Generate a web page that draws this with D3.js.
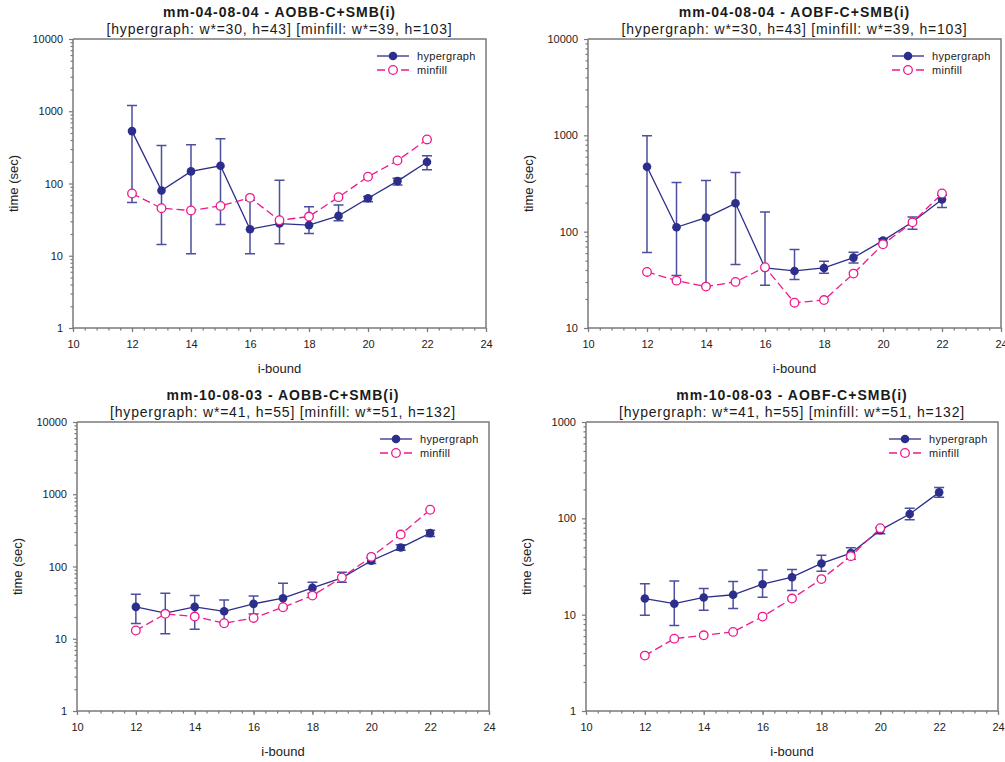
<!DOCTYPE html>
<html>
<head>
<meta charset="utf-8">
<script src="https://cdn.jsdelivr.net/npm/d3@7"></script>
<style>
  html, body { margin: 0; padding: 0; background: #fff; }
  svg { display: block; font-family: "Liberation Sans", Arial, sans-serif; }
</style>
</head>
<body>
<svg id="chart" width="1005" height="762"></svg>
<script>
// ---- data ----
const iBound = [12, 13, 14, 15, 16, 17, 18, 19, 20, 21, 22];
const xTicks = [10, 12, 14, 16, 18, 20, 22, 24];
const seriesNames = ["hypergraph", "minfill"];

const titles = [
  "mm-04-08-04 - AOBB-C+SMB(i)",
  "mm-04-08-04 - AOBF-C+SMB(i)",
  "mm-10-08-03 - AOBB-C+SMB(i)",
  "mm-10-08-03 - AOBF-C+SMB(i)"
];
const subtitles = [
  "[hypergraph: w*=30, h=43] [minfill: w*=39, h=103]",
  "[hypergraph: w*=30, h=43] [minfill: w*=39, h=103]",
  "[hypergraph: w*=41, h=55] [minfill: w*=51, h=132]",
  "[hypergraph: w*=41, h=55] [minfill: w*=51, h=132]"
];
const yDomains = [[1, 10000], [10, 10000], [1, 10000], [1, 1000]];

// panel 1
const p1Hyper   = [531, 80, 147, 176, 23.3, 27.9, 26.5, 35.6, 62.6, 108, 198];
const p1HyperLo = [54.5, 14.3, 10.7, 27, 10.7, 14.7, 20.3, 30.4, 56, 95, 155];
const p1HyperHi = [1205, 336, 343, 416, 58.7, 111, 47.5, 50.6, 66, 118, 242];
const p1Minfill = [72.7, 45.5, 42.3, 49, 63.3, 31, 34.9, 64.7, 124, 208, 407];
// panel 2
const p2Hyper   = [471, 111, 140, 197, 42, 39.1, 42, 53.8, 80.7, 126, 216];
const p2HyperLo = [60.7, 35, 27, 45.5, 27.7, 31.8, 37, 47.3, 77, 106, 178];
const p2HyperHi = [989, 324, 340, 411, 160, 65.2, 49.3, 61, 84.5, 142, 239];
const p2Minfill = [38.2, 31, 26.9, 30.1, 42.7, 18.3, 19.5, 36.7, 74, 125, 249];
// panel 3
const p3Hyper   = [27.6, 22.6, 27.6, 24, 30.4, 36.4, 50.6, 69.7, 120, 183, 290];
const p3HyperLo = [16.2, 11.7, 13.5, 16.9, 22, 26.5, 42.7, 60.7, 110, 168, 260];
const p3HyperHi = [41.4, 42.7, 39.6, 34.5, 39.2, 58.7, 60.7, 83.4, 130, 200, 318];
const p3Minfill = [13, 22.1, 20.3, 16.4, 19.4, 27.3, 39.6, 70.4, 136, 277, 610];
// panel 4
const p4Hyper   = [14.7, 13, 15.1, 16.1, 20.7, 24.5, 34, 43.5, 75.4, 111, 186];
const p4HyperLo = [9.87, 7.7, 11.1, 11.6, 15.2, 17.8, 28.3, 37.7, 69, 96.6, 166];
const p4HyperHi = [21, 22.3, 18.7, 22.1, 29, 29.4, 41.5, 49.4, 80, 127, 209];
const p4Minfill = [3.76, 5.64, 6.11, 6.62, 9.55, 14.7, 23.4, 40.5, 79.1];

// ---- layout ----
const frames = [
  {left: 73, right: 486, top: 39, bottom: 328},
  {left: 588, right: 1001, top: 39, bottom: 328},
  {left: 77, right: 489, top: 422, bottom: 711},
  {left: 586, right: 998, top: 422, bottom: 711}
];
const panelData = [
  {hyper: p1Hyper, lo: p1HyperLo, hi: p1HyperHi, minfill: p1Minfill},
  {hyper: p2Hyper, lo: p2HyperLo, hi: p2HyperHi, minfill: p2Minfill},
  {hyper: p3Hyper, lo: p3HyperLo, hi: p3HyperHi, minfill: p3Minfill},
  {hyper: p4Hyper, lo: p4HyperLo, hi: p4HyperHi, minfill: p4Minfill}
];

const NAVY = "#2c2e8c";
const ERR = "#4b4f9e";
const PINK = "#ec1a8c";
const AXIS = "#7a7a7a";

const svg = d3.select("#chart");

frames.forEach((f, k) => {
  const d = panelData[k];
  const x = d3.scaleLinear().domain([10, 24]).range([f.left, f.right]);
  const y = d3.scaleLog().domain(yDomains[k]).range([f.bottom, f.top]);
  const g = svg.append("g");
  const cx = (f.left + f.right) / 2;

  // titles
  g.append("text").attr("x", cx).attr("y", f.top - 22)
    .attr("text-anchor", "middle").attr("font-size", 14).attr("font-weight", "bold")
    .attr("letter-spacing", "1px").attr("fill", "#1a1a1a").text(titles[k]);
  g.append("text").attr("x", cx).attr("y", f.top - 5)
    .attr("text-anchor", "middle").attr("font-size", 14)
    .attr("letter-spacing", "0.8px").attr("fill", "#1a1a1a").text(subtitles[k]);

  // frame top/right
  g.append("path")
    .attr("d", `M${f.left},${f.top}H${f.right}V${f.bottom}`)
    .attr("fill", "none").attr("stroke", AXIS).attr("stroke-width", 1.5);

  // x axis
  const xMinor = d3.range(10, 24.001, 0.4);
  const xAxisMinor = d3.axisBottom(x).tickValues(xMinor).tickSize(2.5).tickFormat("");
  const gxm = g.append("g").attr("transform", `translate(0,${f.bottom})`).call(xAxisMinor);
  gxm.select(".domain").remove();
  gxm.selectAll("line").attr("stroke", AXIS).attr("stroke-width", 1.2);
  const xAxis = d3.axisBottom(x).tickValues(xTicks).tickSize(4).tickPadding(8).tickFormat(d3.format("d"));
  const gx = g.append("g").attr("transform", `translate(0,${f.bottom})`).call(xAxis);
  gx.select(".domain").attr("stroke", AXIS).attr("stroke-width", 1.5).attr("d", `M${f.left},0H${f.right}`);
  gx.selectAll("line").attr("stroke", AXIS).attr("stroke-width", 1.2);
  gx.selectAll("text").attr("font-size", 11).attr("fill", "#222").attr("font-family", "Liberation Sans, Arial, sans-serif");

  // y axis
  const [y0, y1] = yDomains[k];
  const majors = [];
  for (let v = y0; v <= y1 * 1.0001; v *= 10) majors.push(v);
  const minors = [];
  majors.slice(0, -1).forEach(m => { for (let j = 2; j <= 9; j++) minors.push(m * j); });
  const yAxisMinor = d3.axisLeft(y).tickValues(minors).tickSize(2.5).tickFormat("");
  const gym = g.append("g").attr("transform", `translate(${f.left},0)`).call(yAxisMinor);
  gym.select(".domain").remove();
  gym.selectAll("line").attr("stroke", AXIS).attr("stroke-width", 1.2);
  const yAxis = d3.axisLeft(y).tickValues(majors).tickSize(4).tickPadding(6).tickFormat(d3.format("d"));
  const gy = g.append("g").attr("transform", `translate(${f.left},0)`).call(yAxis);
  gy.select(".domain").attr("stroke", AXIS).attr("stroke-width", 1.5).attr("d", `M0,${f.top}V${f.bottom}`);
  gy.selectAll("line").attr("stroke", AXIS).attr("stroke-width", 1.2);
  gy.selectAll("text").attr("font-size", 11).attr("fill", "#222").attr("font-family", "Liberation Sans, Arial, sans-serif");

  // axis labels
  g.append("text").attr("x", cx).attr("y", f.bottom + 45)
    .attr("text-anchor", "middle").attr("font-size", 13).attr("fill", "#222").text("i-bound");
  const lx = f.left - 55, ly = (f.top + f.bottom) / 2;
  g.append("text").attr("transform", `translate(${lx},${ly}) rotate(-90)`)
    .attr("text-anchor", "middle").attr("font-size", 13).attr("fill", "#222").text("time (sec)");

  // error bars
  const eb = g.append("g").attr("stroke", ERR).attr("stroke-width", 1.5).attr("fill", "none");
  iBound.forEach((ib, i) => {
    const xx = x(ib), ylo = y(d.lo[i]), yhi = y(d.hi[i]);
    eb.append("path").attr("d", `M${xx},${ylo}V${yhi}M${xx - 5},${ylo}H${xx + 5}M${xx - 5},${yhi}H${xx + 5}`);
  });

  // hypergraph line
  const hyperPts = iBound.map((ib, i) => [ib, d.hyper[i]]);
  const line = d3.line().x(p => x(p[0])).y(p => y(p[1]));
  g.append("path").attr("d", line(hyperPts)).attr("fill", "none")
    .attr("stroke", NAVY).attr("stroke-width", 1.3);
  g.selectAll(null).data(hyperPts).enter().append("circle")
    .attr("cx", p => x(p[0])).attr("cy", p => y(p[1])).attr("r", 4.3).attr("fill", NAVY);

  // minfill line
  const minPts = d.minfill.map((v, i) => [iBound[i], v]);
  g.append("path").attr("d", line(minPts)).attr("fill", "none")
    .attr("stroke", PINK).attr("stroke-width", 1.3).attr("stroke-dasharray", "8,4");
  g.selectAll(null).data(minPts).enter().append("circle")
    .attr("cx", p => x(p[0])).attr("cy", p => y(p[1])).attr("r", 4.3)
    .attr("fill", "#fff").attr("stroke", PINK).attr("stroke-width", 1.3);

  // legend
  const lgX1 = f.right - 109, lgX2 = f.right - 77, lgTx = f.right - 69;
  const lgY = [f.top + 17, f.top + 31];
  g.append("line").attr("x1", lgX1).attr("x2", lgX2).attr("y1", lgY[0]).attr("y2", lgY[0])
    .attr("stroke", NAVY).attr("stroke-width", 1.3);
  g.append("circle").attr("cx", (lgX1 + lgX2) / 2).attr("cy", lgY[0]).attr("r", 4.3).attr("fill", NAVY);
  g.append("line").attr("x1", lgX1).attr("x2", lgX2).attr("y1", lgY[1]).attr("y2", lgY[1])
    .attr("stroke", PINK).attr("stroke-width", 1.3).attr("stroke-dasharray", "8,4");
  g.append("circle").attr("cx", (lgX1 + lgX2) / 2).attr("cy", lgY[1]).attr("r", 4.3)
    .attr("fill", "#fff").attr("stroke", PINK).attr("stroke-width", 1.3);
  seriesNames.forEach((name, i) => {
    g.append("text").attr("x", lgTx).attr("y", lgY[i]).attr("dy", "0.35em")
      .attr("font-size", 11).attr("letter-spacing", "0.3px").attr("fill", "#222").text(name);
  });
});
</script>
</body>
</html>
